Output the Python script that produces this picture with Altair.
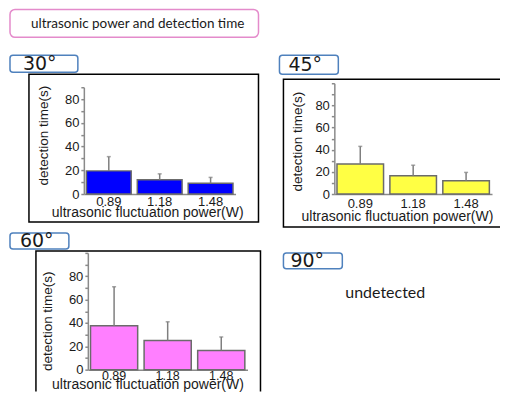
import altair as alt
import pandas as pd

# ---- data ----
powers = ["0.89", "1.18", "1.48"]
time_30 = [19.5, 12, 9]
err_30 = [31.5, 17, 14]
time_45 = [27, 16.5, 12]
err_45 = [43, 26, 19.5]
time_60 = [37.5, 25, 16.5]
err_60 = [71, 41, 28]
major_ticks = [0, 20, 40, 60, 80]
minor_ticks_90 = [10, 30, 50, 70, 90]
minor_ticks_100 = [10, 30, 50, 70, 90, 100]
angle_labels = ["30°", "45°", "60°", "90°"]
main_title = "ultrasonic power  and detection time"
x_title = "ultrasonic fluctuation power(W)"
y_title = "detection time(s)"
note_90 = "undetected"

one = pd.DataFrame({"k": [0]})
AXIS_GRAY = "#8a8a8a"
TXT = "#1a1a1a"


def box(x, y, x2, y2, color, width=1.5, radius=3, fill="white", opacity=1, clip=False):
    return alt.Chart(one).mark_rect(
        fill=fill, fillOpacity=opacity, stroke=color, strokeWidth=width,
        cornerRadius=radius, clip=clip
    ).encode(x=alt.value(x), x2=alt.value(x2), y=alt.value(y), y2=alt.value(y2))


def label(text, x, y, size, font):
    return alt.Chart(one).mark_text(
        text=text, align="left", baseline="middle", font=font, fontSize=size, color=TXT
    ).encode(x=alt.value(x), y=alt.value(y))


def panel(vals, errs, color, w, h, xr, yr, top, minor, frame, lbox, ltext, ltx,
          ytx, yty, xtx, xty, lpad, lsize=13):
    df = pd.DataFrame({"power": powers, "time": vals, "err": errs})
    base = alt.Chart(df)
    yscale = alt.Scale(domain=[0, top], range=yr, nice=False, zero=True)
    xenc = alt.X(
        "power:N", sort=powers,
        scale=alt.Scale(range=xr, paddingInner=0.12, paddingOuter=0.05),
        axis=alt.Axis(
            title=x_title, offset=yr[0] - h, labelAngle=0, ticks=False, tickSize=0,
            labelPadding=lpad, labelFontSize=lsize, labelFont="Liberation Sans",
            titleFontSize=14, titleFont="Liberation Sans", titleFontWeight="normal",
            titleX=xtx, titleY=xty, titleAlign="center", titleBaseline="middle",
            domainColor=AXIS_GRAY, domainWidth=1.5, labelColor=TXT, titleColor=TXT,
            grid=False, labelOverlap=False,
        ),
    )
    yenc = alt.Y(
        "time:Q", scale=yscale,
        axis=alt.Axis(
            orient="left", title=y_title, offset=-xr[0], values=major_ticks,
            tickSize=3, tickColor=AXIS_GRAY, tickWidth=1.5,
            domainColor=AXIS_GRAY, domainWidth=1.5, labelPadding=2,
            labelFontSize=13, labelFont="Liberation Sans", labelOverlap=False,
            titleFontSize=13.5, titleFont="Liberation Sans", titleFontWeight="normal",
            titleX=ytx, titleY=yty, titleAngle=270, titleAlign="center",
            titleBaseline="middle", grid=False, labelColor=TXT, titleColor=TXT,
        ),
    )
    yminor = alt.Y(
        "err:Q", scale=yscale,
        axis=alt.Axis(
            orient="left", title=None, offset=-xr[0], values=minor, labels=False,
            domain=False, tickSize=3, tickColor=AXIS_GRAY, tickWidth=1.5, grid=False,
        ),
    )
    bars = base.mark_bar(color=color, stroke="#6b6b6b", strokeWidth=1.5).encode(x=xenc, y=yenc)
    rules = base.mark_rule(color="#7f7f7f", strokeWidth=1.5).encode(
        x=alt.X("power:N", sort=powers), y=yminor, y2="time:Q")
    caps = base.mark_tick(color="#7f7f7f", size=4, thickness=1.5).encode(
        x=alt.X("power:N", sort=powers), y=alt.Y("err:Q", scale=yscale, axis=None))
    fr = box(*frame, color="black", width=1.5, radius=0, opacity=0, clip=True)
    lb = box(*lbox, color="#4f81bd", width=1.5, radius=3)
    lt = label(ltext, ltx, (lbox[1] + lbox[3]) / 2 + 0.5, 19, "DejaVu Sans")
    return alt.layer(fr, bars, rules, caps, lb, lt).resolve_axis(y="independent").properties(
        width=w, height=h)


title_cell = alt.layer(
    box(0, 0, 249, 28, color="#e48bcb", width=1.5, radius=5),
    label(main_title, 21, 14.5, 13.5, "Lato"),
).properties(width=270, height=46)

spacer = alt.Chart(one).mark_point(opacity=0).encode(
    x=alt.value(100), y=alt.value(20)).properties(width=221, height=46)

cell_a = panel(time_30, err_30, "#0000ff", 270, 176, [74, 226], [139, 32], 90, minor_ticks_90,
               (19, 19, 249, 167), (0, 0, 68, 17), angle_labels[0], 13,
               -40, 80, 137.5, 18.7, 2)
cell_b = panel(time_45, err_45, "#ffff44", 221, 176, [55, 213], [139, 28], 100, minor_ticks_100,
               (4, 24, 240, 172), (0, 0, 59, 19), angle_labels[1], 9,
               -37, 86, 117.7, 22.4, 4)
cell_c = panel(time_60, err_60, "#ff7fff", 270, 161, [78, 238], [139, 22], 100, minor_ticks_100,
               (26, 20, 251, 175), (0, 2, 59, 18), angle_labels[2], 10,
               -40, 90, 137.7, 15, 0, 12.5)
cell_d = alt.layer(
    box(4, 22, 63, 38, color="#4f81bd", width=1.5, radius=3),
    label(angle_labels[3], 11, 30.5, 19, "DejaVu Sans"),
    label(note_90, 66, 62, 16, "Lato"),
).properties(width=221, height=161)

chart = alt.concat(
    title_cell, spacer, cell_a, cell_b, cell_c, cell_d,
    columns=2, spacing=0, bounds="flush",
).properties(
    padding={"left": 1, "top": 0, "right": 0, "bottom": 0}
).configure(font="Liberation Sans").configure_view(stroke="transparent", strokeWidth=0)

chart.save("out.html", embed_options={"renderer": "svg", "actions": False})
